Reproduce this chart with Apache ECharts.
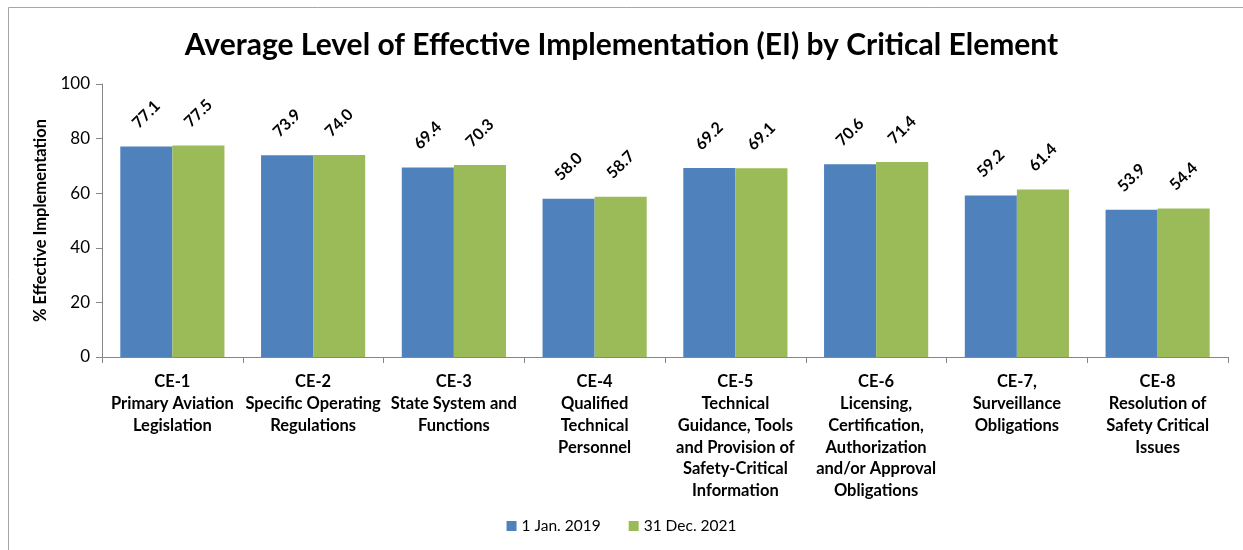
<!DOCTYPE html>
<html>
<head>
<meta charset="utf-8">
<script src="https://cdn.jsdelivr.net/npm/echarts@6/dist/echarts.min.js"></script>
<style>
  html, body { margin: 0; padding: 0; background: #fff; }
  #chart { width: 1243px; height: 550px; }
</style>
</head>
<body>
<div id="chart"></div>
<script>
// categories (line breaks as in the original)
const categories = [
  "CE-1\nPrimary Aviation\nLegislation",
  "CE-2\nSpecific Operating\nRegulations",
  "CE-3\nState System and\nFunctions",
  "CE-4\nQualified\nTechnical\nPersonnel",
  "CE-5\nTechnical\nGuidance, Tools\nand Provision of\nSafety-Critical\nInformation",
  "CE-6\nLicensing,\nCertification,\nAuthorization\nand/or Approval\nObligations",
  "CE-7,\nSurveillance\nObligations",
  "CE-8\nResolution of\nSafety Critical\nIssues"
];
const ei2019 = [77.1, 73.9, 69.4, 58.0, 69.2, 70.6, 59.2, 53.9];
const ei2021 = [77.5, 74.0, 70.3, 58.7, 69.1, 71.4, 61.4, 54.4];
const seriesNames = ["1 Jan. 2019", "31 Dec. 2021"];

const font = "Lato, 'Open Sans', sans-serif";

const chart = echarts.init(document.getElementById("chart"));

const barLabel = {
  show: true,
  position: "top",
  distance: 32,
  rotate: 45,
  align: "center",
  verticalAlign: "middle",
  color: "#000",
  fontFamily: font,
  fontWeight: "bold",
  fontSize: 16,
  formatter: p => p.value.toFixed(1)
};

chart.setOption({
  animation: false,
  textStyle: { fontFamily: font },
  graphic: [{
    type: "rect",
    shape: { x: 8.5, y: 7.5, width: 1260, height: 560 },
    style: { fill: "none", stroke: "#a6a6a6", lineWidth: 1 },
    silent: true
  }],
  title: {
    text: "Average Level of Effective Implementation (EI) by Critical Element",
    left: "center",
    top: 25,
    textStyle: { fontFamily: font, fontWeight: "bold", fontSize: 30, color: "#000" }
  },
  legend: {
    bottom: 11,
    left: "center",
    itemWidth: 10,
    itemHeight: 10,
    itemGap: 28,
    icon: "rect",
    textStyle: { fontFamily: font, fontSize: 15.5, color: "#000" },
    data: seriesNames
  },
  grid: { left: 102, right: 15, top: 84, bottom: 193 },
  xAxis: {
    type: "category",
    data: categories,
    axisLine: { lineStyle: { color: "#868686" } },
    axisTick: { show: true, alignWithLabel: false, length: 6, lineStyle: { color: "#868686" } },
    axisLabel: {
      interval: 0,
      margin: 14,
      color: "#000",
      fontFamily: font,
      fontWeight: "bold",
      fontSize: 16.5,
      lineHeight: 21.8
    }
  },
  yAxis: {
    type: "value",
    min: 0,
    max: 100,
    interval: 20,
    name: "% Effective Implementation",
    nameLocation: "middle",
    nameGap: 52,
    nameTextStyle: { fontFamily: font, fontWeight: "bold", fontSize: 16.5, color: "#000" },
    splitLine: { show: false },
    axisLine: { show: true, lineStyle: { color: "#868686" } },
    axisTick: { show: true, length: 6, lineStyle: { color: "#868686" } },
    axisLabel: { color: "#000", fontFamily: font, fontSize: 17, margin: 12 }
  },
  series: [
    {
      name: seriesNames[0],
      type: "bar",
      data: ei2019,
      barGap: "0%",
      barCategoryGap: "26%",
      itemStyle: { color: "#4f81bd" },
      label: barLabel
    },
    {
      name: seriesNames[1],
      type: "bar",
      data: ei2021,
      itemStyle: { color: "#9bbb59" },
      label: barLabel
    }
  ]
});
</script>
</body>
</html>
